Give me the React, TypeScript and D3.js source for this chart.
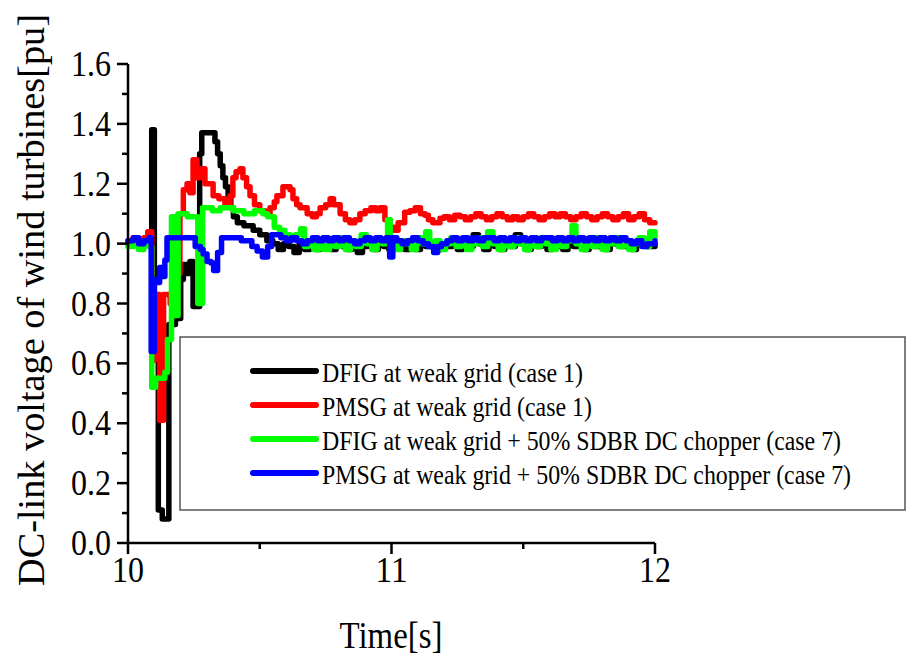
import React from "react";
import * as d3 from "d3";

type Pt = [number, number];

// DFIG at weak grid (case 1) — black
const dfigCase1: Pt[] = [
  [10.00,1.00],[10.02,1.01],[10.04,0.99],[10.06,1.01],[10.08,1.00],[10.09,1.38],[10.10,0.62],[10.115,0.11],[10.13,0.08],
  [10.155,0.73],[10.18,0.75],[10.20,0.88],[10.21,0.93],[10.225,0.90],[10.235,0.94],[10.247,0.79],[10.272,1.30],[10.28,1.37],
  [10.33,1.34],[10.34,1.30],[10.35,1.26],[10.36,1.22],[10.37,1.19],[10.38,1.15],[10.39,1.12],[10.40,1.09],[10.415,1.07],
  [10.44,1.06],[10.475,1.045],[10.50,1.03],[10.527,1.01],[10.55,1.00],[10.57,0.98],[10.59,1.00],[10.61,0.99],[10.63,0.97],
  [10.65,1.00],[10.67,0.98],[10.69,1.00],[10.71,0.98],[10.73,0.99],[10.75,1.01],[10.77,0.98],[10.79,1.00],[10.81,0.99],
  [10.83,0.98],[10.85,1.00],[10.87,0.97],[10.89,0.99],[10.91,1.01],[10.93,0.98],[10.95,1.00],[10.97,0.99],[10.99,0.98],
  [11.01,1.00],[11.03,0.99],[11.05,0.98],[11.07,1.00],[11.09,0.98],[11.11,1.01],[11.13,0.99],[11.15,1.00],[11.17,0.98],
  [11.19,1.00],[11.21,0.99],[11.23,1.01],[11.25,0.98],[11.27,1.00],[11.29,0.99],[11.31,1.03],[11.33,1.00],[11.35,0.98],
  [11.37,1.00],[11.39,0.99],[11.41,0.98],[11.43,1.01],[11.45,0.99],[11.47,1.03],[11.49,1.00],[11.51,0.98],[11.53,1.00],
  [11.55,0.99],[11.57,1.01],[11.59,0.98],[11.61,1.00],[11.63,0.99],[11.65,0.98],[11.67,1.01],[11.69,0.99],[11.71,1.00],
  [11.73,0.98],[11.75,1.01],[11.77,0.99],[11.79,1.02],[11.81,0.98],[11.83,1.00],[11.85,1.02],[11.87,0.99],[11.89,1.01],
  [11.91,0.98],[11.93,1.00],[11.95,1.01],[11.97,0.99],[12.00,1.00],
];

// PMSG at weak grid (case 1) — red
const pmsgCase1: Pt[] = [
  [10.00,1.01],[10.02,1.02],[10.04,1.01],[10.06,1.02],[10.075,1.04],[10.09,0.61],[10.10,0.83],[10.12,0.41],[10.135,0.83],
  [10.16,0.80],[10.17,0.90],[10.197,1.10],[10.21,1.18],[10.224,1.20],[10.235,1.17],[10.247,1.28],[10.262,1.22],[10.273,1.25],
  [10.292,1.20],[10.323,1.16],[10.345,1.15],[10.368,1.13],[10.387,1.16],[10.398,1.22],[10.41,1.24],[10.425,1.25],[10.436,1.22],
  [10.45,1.19],[10.463,1.16],[10.48,1.13],[10.50,1.11],[10.52,1.10],[10.539,1.12],[10.555,1.14],[10.565,1.16],[10.588,1.19],
  [10.615,1.18],[10.626,1.15],[10.64,1.13],[10.653,1.12],[10.68,1.10],[10.70,1.09],[10.715,1.10],[10.729,1.12],[10.75,1.13],
  [10.767,1.15],[10.78,1.13],[10.805,1.10],[10.825,1.08],[10.842,1.07],[10.861,1.08],[10.88,1.10],[10.90,1.11],[10.922,1.12],
  [10.94,1.11],[10.956,1.12],[10.975,1.08],[10.994,1.055],[11.01,1.045],[11.025,1.07],[11.05,1.105],[11.07,1.11],[11.09,1.12],
  [11.11,1.10],[11.127,1.095],[11.14,1.08],[11.157,1.07],[11.184,1.085],[11.20,1.09],[11.22,1.08],[11.24,1.095],[11.26,1.09],
  [11.28,1.08],[11.30,1.09],[11.32,1.10],[11.34,1.09],[11.36,1.08],[11.38,1.09],[11.40,1.10],[11.42,1.09],[11.44,1.08],
  [11.46,1.09],[11.48,1.08],[11.50,1.09],[11.52,1.10],[11.54,1.09],[11.56,1.08],[11.58,1.09],[11.60,1.10],[11.62,1.09],
  [11.64,1.10],[11.66,1.09],[11.68,1.08],[11.70,1.09],[11.72,1.10],[11.74,1.09],[11.76,1.08],[11.78,1.09],[11.80,1.10],
  [11.82,1.09],[11.84,1.08],[11.86,1.09],[11.88,1.10],[11.90,1.08],[11.92,1.09],[11.94,1.10],[11.96,1.08],[11.98,1.07],[12.00,1.07],
];

// DFIG at weak grid + 50% SDBR DC chopper (case 7) — green
const dfigCase7: Pt[] = [
  [10.00,0.99],[10.02,1.00],[10.04,0.98],[10.06,1.01],[10.08,0.99],[10.09,0.52],[10.105,0.55],[10.14,0.57],[10.15,0.68],
  [10.165,1.09],[10.178,0.76],[10.19,1.10],[10.225,1.09],[10.265,0.80],[10.283,1.12],[10.32,1.11],[10.35,1.12],[10.40,1.11],
  [10.44,1.10],[10.48,1.11],[10.512,1.10],[10.53,1.09],[10.555,1.055],[10.575,1.045],[10.595,1.03],[10.615,1.02],[10.635,1.03],
  [10.655,1.05],[10.67,0.99],[10.685,1.01],[10.705,0.98],[10.725,1.00],[10.745,0.98],[10.765,1.01],[10.785,0.99],[10.805,1.02],
  [10.825,0.98],[10.845,1.01],[10.865,0.99],[10.885,1.03],[10.905,1.00],[10.925,0.98],[10.945,1.01],[10.965,1.00],[10.985,1.08],
  [10.995,1.00],[11.015,0.98],[11.035,1.01],[11.055,1.00],[11.075,0.98],[11.095,1.02],[11.115,1.00],[11.13,1.04],[11.145,0.99],
  [11.165,1.01],[11.185,0.98],[11.205,1.00],[11.225,1.02],[11.245,0.99],[11.265,1.01],[11.285,0.98],[11.305,1.00],[11.325,1.02],
  [11.345,0.99],[11.365,1.04],[11.385,1.00],[11.405,0.98],[11.425,1.01],[11.445,0.99],[11.465,1.02],[11.485,1.00],[11.505,0.98],
  [11.525,1.01],[11.545,0.99],[11.565,1.02],[11.585,1.00],[11.605,0.98],[11.625,1.01],[11.645,0.99],[11.665,1.01],[11.685,1.06],
  [11.70,1.00],[11.72,0.98],[11.74,1.01],[11.76,0.99],[11.78,1.02],[11.80,0.98],[11.82,1.00],[11.84,1.02],[11.86,0.99],
  [11.88,1.01],[11.90,0.98],[11.92,1.00],[11.94,1.02],[11.96,0.99],[11.98,1.04],[12.00,1.02],
];

// PMSG at weak grid + 50% SDBR DC chopper (case 7) — blue
const pmsgCase7: Pt[] = [
  [10.00,1.01],[10.02,1.02],[10.04,1.00],[10.06,1.01],[10.08,1.02],[10.088,0.64],[10.10,0.88],[10.11,0.87],[10.12,0.92],
  [10.13,0.89],[10.14,0.945],[10.148,1.02],[10.20,1.02],[10.25,1.02],[10.255,0.99],[10.275,0.98],[10.285,0.965],[10.30,0.94],
  [10.315,0.935],[10.325,0.91],[10.34,0.97],[10.355,1.02],[10.40,1.02],[10.43,1.01],[10.47,0.99],[10.49,0.975],[10.51,0.955],
  [10.53,0.99],[10.545,1.03],[10.58,1.02],[10.60,1.01],[10.62,1.02],[10.64,1.01],[10.66,1.00],[10.68,1.01],[10.70,1.02],
  [10.72,1.01],[10.74,1.02],[10.76,1.01],[10.78,1.02],[10.80,1.01],[10.82,1.02],[10.84,1.01],[10.86,1.00],[10.88,1.01],
  [10.90,1.02],[10.92,1.01],[10.94,1.02],[10.96,1.01],[10.98,1.02],[10.993,0.955],[11.005,1.02],[11.02,1.01],[11.04,1.00],
  [11.06,1.01],[11.08,1.02],[11.10,1.01],[11.12,1.00],[11.14,0.99],[11.16,0.97],[11.175,0.99],[11.19,1.00],[11.21,1.01],
  [11.23,1.02],[11.25,1.01],[11.27,1.02],[11.29,1.01],[11.31,1.02],[11.33,1.01],[11.35,1.02],[11.37,1.02],[11.39,1.01],
  [11.41,1.02],[11.43,1.01],[11.45,1.02],[11.47,1.01],[11.49,1.02],[11.51,1.01],[11.53,1.02],[11.55,1.01],[11.57,1.02],
  [11.59,1.02],[11.61,1.01],[11.63,1.02],[11.65,1.01],[11.67,1.02],[11.69,1.01],[11.71,1.02],[11.73,1.01],[11.75,1.02],
  [11.77,1.01],[11.79,1.02],[11.81,1.01],[11.83,1.02],[11.85,1.01],[11.87,1.02],[11.89,1.01],[11.91,1.00],[11.93,1.01],
  [11.95,0.99],[11.97,1.00],[12.00,1.01],
];

const seriesNames = [
  "DFIG at weak grid (case 1)",
  "PMSG at weak grid (case 1)",
  "DFIG at weak grid + 50% SDBR DC chopper (case 7)",
  "PMSG at weak grid + 50% SDBR DC chopper (case 7)",
];
const seriesColors = ["#000000", "#ff0000", "#00ff00", "#0000ff"];
const seriesData = [dfigCase1, pmsgCase1, dfigCase7, pmsgCase7];
const legendTextWidths = [261, 270, 519, 529];

const yTicks = [0, 0.2, 0.4, 0.6, 0.8, 1.0, 1.2, 1.4, 1.6];
const yTickLabels = ["0.0", "0.2", "0.4", "0.6", "0.8", "1.0", "1.2", "1.4", "1.6"];
const yMinorTicks = [0.1, 0.3, 0.5, 0.7, 0.9, 1.1, 1.3, 1.5];
const xTicks = [10, 11, 12];
const xTickLabels = ["10", "11", "12"];
const xMinorTicks = [10.5, 11.5];

const FONT = "Liberation Serif";
const txt = { fontFamily: FONT, fill: "#000" } as const;

export default function App() {
  const x = d3.scaleLinear().domain([10, 12]).range([128, 655]);
  const y = d3.scaleLinear().domain([0, 1.6]).range([543, 64]);
  const line = d3
    .line<Pt>()
    .x((d) => x(d[0]))
    .y((d) => y(d[1]))
    .curve(d3.curveStepAfter);

  const legendX0 = 253;
  const legendX1 = 316;
  const legendY0 = 371;
  const legendDy = 34;

  return (
    <svg
      width={924}
      height={656}
      style={{ position: "absolute", left: 0, top: 0, background: "#fff" }}
    >
      <rect x={0} y={0} width={924} height={656} fill="#fff" />
      {seriesData.map((d, i) => (
        <path
          key={i}
          d={line(d) || ""}
          fill="none"
          stroke={seriesColors[i]}
          strokeWidth={5.5}
          strokeLinejoin="round"
          strokeLinecap="round"
        />
      ))}
      <line x1={x(10)} x2={x(10)} y1={y(1.6)} y2={y(0)} stroke="#000" strokeWidth={2.5} />
      <line x1={x(10)} x2={x(12)} y1={y(0)} y2={y(0)} stroke="#000" strokeWidth={2.5} />
      {yTicks.map((v, i) => (
        <g key={"yt" + i}>
          <line x1={x(10) - 11} x2={x(10)} y1={y(v)} y2={y(v)} stroke="#000" strokeWidth={2.5} />
          <text
            style={txt}
            x={111}
            y={y(v) + 12}
            fontSize={36}
            textAnchor="end"
            textLength={40}
            lengthAdjust="spacingAndGlyphs"
          >
            {yTickLabels[i]}
          </text>
        </g>
      ))}
      {yMinorTicks.map((v, i) => (
        <line key={"ym" + i} x1={x(10) - 6} x2={x(10)} y1={y(v)} y2={y(v)} stroke="#000" strokeWidth={2.5} />
      ))}
      {xTicks.map((v, i) => (
        <g key={"xt" + i}>
          <line x1={x(v)} x2={x(v)} y1={y(0)} y2={y(0) + 11} stroke="#000" strokeWidth={2.5} />
          <text
            style={txt}
            x={x(v)}
            y={582}
            fontSize={36}
            textAnchor="middle"
            textLength={32}
            lengthAdjust="spacingAndGlyphs"
          >
            {xTickLabels[i]}
          </text>
        </g>
      ))}
      {xMinorTicks.map((v, i) => (
        <line key={"xm" + i} x1={x(v)} x2={x(v)} y1={y(0)} y2={y(0) + 6} stroke="#000" strokeWidth={2.5} />
      ))}
      <text
        style={txt}
        x={391}
        y={648}
        fontSize={38}
        textAnchor="middle"
        textLength={103}
        lengthAdjust="spacingAndGlyphs"
      >
        Time[s]
      </text>
      <text
        style={txt}
        transform="translate(44,300) rotate(-90)"
        x={0}
        y={0}
        fontSize={38}
        textAnchor="middle"
        textLength={572}
        lengthAdjust="spacingAndGlyphs"
      >
        DC-link voltage of wind turbines[pu]
      </text>
      <rect x={180} y={337} width={725} height={173} fill="#fff" stroke="#555" strokeWidth={1.5} />
      {seriesNames.map((name, i) => (
        <g key={"lg" + i}>
          <line
            x1={legendX0}
            x2={legendX1}
            y1={legendY0 + i * legendDy}
            y2={legendY0 + i * legendDy}
            stroke={seriesColors[i]}
            strokeWidth={6}
            strokeLinecap="round"
          />
          <text
            style={txt}
            x={322}
            y={legendY0 + i * legendDy + 11}
            fontSize={27}
            textLength={legendTextWidths[i]}
            lengthAdjust="spacingAndGlyphs"
          >
            {name}
          </text>
        </g>
      ))}
    </svg>
  );
}
